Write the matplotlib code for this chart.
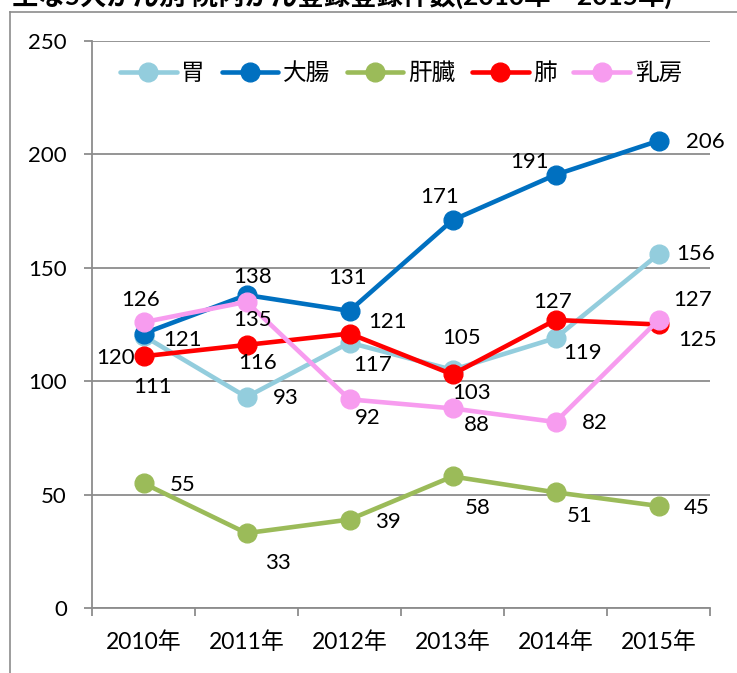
import matplotlib
matplotlib.use("Agg")
import matplotlib.pyplot as plt
from matplotlib.lines import Line2D

plt.rcParams['font.family'] = ['Lato', 'Noto Sans CJK JP', 'DejaVu Sans']

years = ['2010年', '2011年', '2012年', '2013年', '2014年', '2015年']
names = ['胃', '大腸', '肝臓', '肺', '乳房']
stomach = [120, 93, 117, 105, 119, 156]
colon = [121, 138, 131, 171, 191, 206]
liver = [55, 33, 39, 58, 51, 45]
lung = [111, 116, 121, 103, 127, 125]
breast = [126, 135, 92, 88, 82, 127]
series = [stomach, colon, liver, lung, breast]
colors = ['#93CDDD', '#0070C0', '#9BBB59', '#FF0000', '#F79CEF']

# label offsets in pixels (dx, dy downward) for each point
offsets = [
    [(-28, 22), (39, 1), (23, 22), (9, -32), (27, 15), (37, 0)],
    [(39, 6), (6, -18), (-2, -33), (-13, -23), (-26, -13), (47, 1)],
    [(39, 2), (31, 30), (38, 2), (25, 32), (24, 24), (38, 2)],
    [(9, 31), (11, 18), (38, -12), (19, 19), (-3, -18), (39, 16)],
    [(-3, -22), (6, 18), (18, 19), (24, 17), (39, 1), (34, -20)],
]

W, H = 737, 673
fig = plt.figure(figsize=(W / 100, H / 100), dpi=100)
ax = fig.add_axes([92 / W, 1 - 608 / H, (710 - 92) / W, (608 - 41) / H])

x = list(range(len(years)))
for vals, name, c, offs in zip(series, names, colors, offsets):
    ax.plot(x, vals, color=c, lw=3.3, marker='o', ms=13.5, label=name,
            solid_capstyle='round')
    for xi, v, (dx, dy) in zip(x, vals, offs):
        ax.annotate(str(v), (xi, v), xytext=(dx, -dy), textcoords='offset pixels',
                    ha='center', va='center', fontsize=16, color='black')

ax.set_xlim(-0.5, len(years) - 0.5)
ax.set_ylim(0, 250)
ax.set_yticks(range(0, 251, 50))
ax.grid(axis='y', color='#8C8C8C', lw=1.3)
ax.set_axisbelow(True)

ax.set_xticks(x)
ax.set_xticklabels(years)
ax.set_xticks([i - 0.5 for i in range(len(years) + 1)], minor=True)
ax.tick_params(axis='x', which='major', length=0, pad=17, labelsize=16.5)
ax.tick_params(axis='x', which='minor', length=6, width=1.3, color='#8C8C8C',
               direction='out')
ax.tick_params(axis='y', length=6, width=1.3, color='#8C8C8C', pad=12,
               labelsize=16)

for s in ['top', 'right']:
    ax.spines[s].set_visible(False)
for s in ['left', 'bottom']:
    ax.spines[s].set_color('#8C8C8C')
    ax.spines[s].set_linewidth(1.3)

ax.legend(loc='upper center', bbox_to_anchor=(0.5, 1.0), ncol=5, frameon=False,
          fontsize=17, handlelength=2.4, handletextpad=0.2, columnspacing=0.7,
          borderaxespad=0.5)

# outer chart frame
fig.add_artist(Line2D([10 / W, 10 / W], [0, 1 - 12 / H], color='#8C8C8C', lw=1.2,
                      transform=fig.transFigure))
fig.add_artist(Line2D([10 / W, 1], [1 - 12 / H, 1 - 12 / H], color='#8C8C8C', lw=1.2,
                      transform=fig.transFigure))

fig.text(12 / W, 1 + 5 / H, '主な5大がん別 院内がん登録登録件数(2010年～2015年)',
         ha='left', va='center', fontsize=19, fontweight='bold')

fig.savefig('out.png', dpi=100)
